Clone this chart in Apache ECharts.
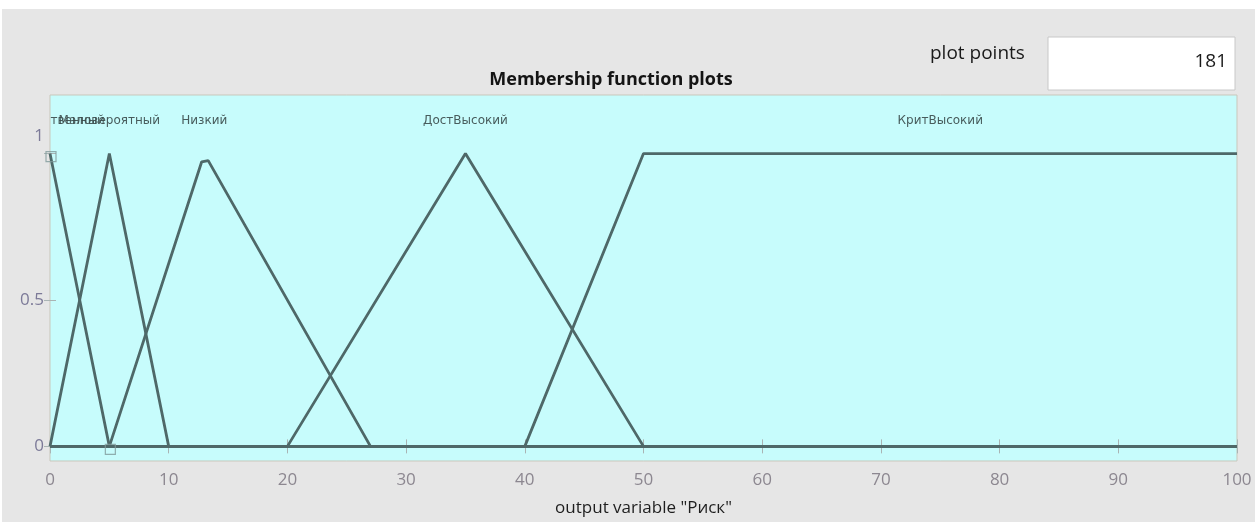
<!DOCTYPE html>
<html>
<head>
<meta charset="utf-8">
<script src="https://cdn.jsdelivr.net/npm/echarts@6/dist/echarts.min.js"></script>
<style>
html,body{margin:0;padding:0;background:#ffffff;}
#chart{width:1255px;height:522px;}
</style>
</head>
<body>
<div id="chart"></div>
<script>
// ---- data ----
const xTicks = [0, 10, 20, 30, 40, 50, 60, 70, 80, 90, 100];
const yTicks = [0, 0.5, 1];
const mfNames = ['Несущественный', 'Маловероятный', 'Низкий', 'ДостВысокий', 'КритВысокий'];
const mfLabelX = [0, 5, 13, 35, 75];
const mf1 = [[0, 1], [5, 0], [100, 0]];
const mf2 = [[0, 0], [5, 1], [10, 0], [100, 0]];
const mf3 = [[0, 0], [5, 0], [12.78, 0.972], [13.33, 0.976], [27, 0], [100, 0]];
const mf4 = [[0, 0], [20, 0], [35, 1], [50, 0], [100, 0]];
const mf5 = [[0, 0], [40, 0], [50, 1], [100, 1]];
const selectedVertices = [[0, 1], [5, 0]];
const plotPoints = '181';

const chart = echarts.init(document.getElementById('chart'), null, {renderer: 'canvas'});
const lineColor = '#4e6868';
const mfs = [mf1, mf2, mf3, mf4, mf5];

const series = mfs.map((d, i) => ({
  type: 'line',
  name: mfNames[i],
  data: d,
  showSymbol: false,
  symbol: 'none',
  lineStyle: {color: lineColor, width: 2.8},
  z: 3,
  animation: false
}));

series.push({
  type: 'scatter',
  data: selectedVertices,
  symbol: 'rect',
  symbolSize: 10,
  symbolOffset: [1, 3],
  itemStyle: {color: 'rgba(0,0,0,0)', borderColor: '#7f9a9a', borderWidth: 1.2},
  z: 4,
  animation: false
});

series.push({
  type: 'custom',
  clip: true,
  animation: false,
  data: mfNames.map((n, i) => [mfLabelX[i], 1.11, n]),
  renderItem: function (params, api) {
    const p = api.coord([api.value(0), api.value(1)]);
    return {
      type: 'text',
      x: p[0], y: p[1],
      style: {
        text: mfNames[params.dataIndex],
        fill: '#3a4a4a',
        font: '12px "DejaVu Sans"',
        align: 'center',
        verticalAlign: 'middle',
        opacity: 0.9
      }
    };
  },
  encode: {x: 0, y: 1},
  z: 5
});

const option = {
  animation: false,
  backgroundColor: '#ffffff',
  graphic: [
    {type: 'rect', shape: {x: 2, y: 9, width: 1253, height: 513}, style: {fill: '#e6e6e6'}, z: -10},
    {type: 'rect', shape: {x: 1048, y: 37, width: 187, height: 53}, style: {fill: '#ffffff', stroke: '#c8c8c8', lineWidth: 1}, z: 1},
    {type: 'text', x: 930, y: 54, style: {text: 'plot points', font: '19px "Open Sans"', fill: '#1a1a1a', verticalAlign: 'middle'}},
    {type: 'text', x: 1227, y: 62, style: {text: plotPoints, font: '19px "Open Sans"', fill: '#1a1a1a', align: 'right', verticalAlign: 'middle'}, z: 2}
  ],
  title: {
    text: 'Membership function plots',
    left: 606, top: 66,
    textAlign: 'center',
    textStyle: {fontFamily: 'Open Sans', fontWeight: 'bold', fontSize: 18, color: '#141414'}
  },
  grid: {
    left: 50, top: 95, width: 1187, height: 367,
    show: true, backgroundColor: '#c7fcfc', borderColor: '#c9c7bb', borderWidth: 1
  },
  xAxis: [{
    type: 'value', min: 0, max: 100, interval: 10, position: 'bottom',
    axisLine: {show: false},
    axisTick: {show: true, inside: true, length: 7, lineStyle: {color: '#a9b4b4'}},
    splitLine: {show: false},
    axisLabel: {margin: 11, color: '#8c8790', fontFamily: 'Open Sans', fontSize: 17,
      formatter: v => xTicks.includes(v) ? String(v) : ''},
    name: 'output variable "Риск"', nameLocation: 'middle', nameGap: 39,
    nameTextStyle: {fontFamily: 'Open Sans', fontSize: 17, color: '#1e1e1e'}
  }, {
    type: 'value', min: 0, max: 100, interval: 10, position: 'top',
    axisLine: {show: false},
    axisTick: {show: true, inside: true, length: 7, lineStyle: {color: '#a9b4b4'}},
    axisLabel: {show: false}, splitLine: {show: false}
  }],
  yAxis: [{
    type: 'value', min: -0.05, max: 1.2, position: 'left',
    axisLine: {show: false},
    axisTick: {show: true, inside: true, length: 6, customValues: yTicks, lineStyle: {color: '#a9b4b4'}},
    splitLine: {show: false},
    axisLabel: {
      customValues: yTicks, margin: 6, color: '#7c7a98', fontFamily: 'Open Sans', fontSize: 17,
      formatter: v => v === 1 ? '{up|1}' : String(v),
      rich: {up: {fontFamily: 'Open Sans', fontSize: 17, color: '#7c7a98', padding: [0, 0, 34, 0]}}
    }
  }, {
    type: 'value', min: -0.05, max: 1.2, position: 'right',
    axisLine: {show: false},
    axisTick: {show: true, inside: true, length: 6, customValues: yTicks, lineStyle: {color: '#a9b4b4'}},
    axisLabel: {show: false}, splitLine: {show: false}
  }],
  series: series
};
chart.setOption(option);
</script>
</body>
</html>
